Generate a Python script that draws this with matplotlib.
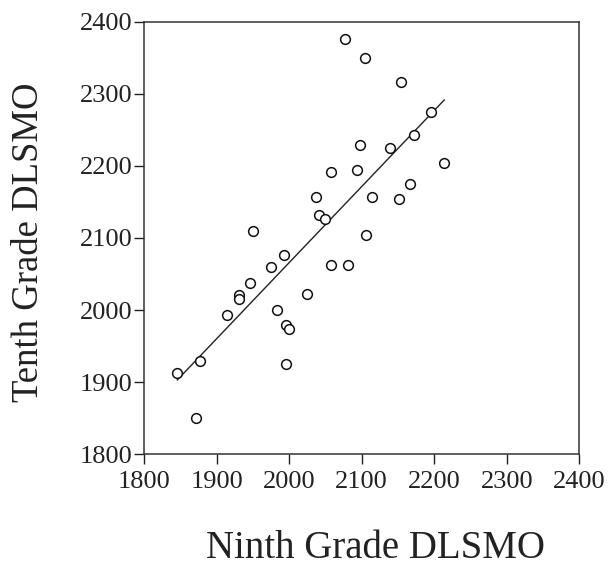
import matplotlib
matplotlib.use("Agg")
import matplotlib.pyplot as plt

ninth = [1845.9, 1871.2, 1877.2, 1914.4, 1930.9, 1930.9, 1945.6, 1950.2, 1975.0,
         1982.8, 1993.4, 1995.2, 2000.3, 1995.2, 2024.6, 2037.0, 2041.2, 2049.9,
         2057.7, 2057.7, 2081.1, 2077.0, 2104.1, 2097.2, 2093.5, 2105.9, 2114.2,
         2139.5, 2151.9, 2154.2, 2167.0, 2172.5, 2195.5, 2213.9]
tenth = [1912.3, 1849.9, 1929.0, 1993.2, 2020.5, 2015.9, 2037.2, 2110.2, 2060.3,
         2000.2, 2076.5, 1979.4, 1974.3, 1924.8, 2022.8, 2156.4, 2131.5, 2126.9,
         2191.6, 2062.1, 2062.1, 2375.6, 2350.2, 2229.0, 2193.9, 2103.7, 2156.4,
         2224.9, 2154.1, 2316.9, 2174.9, 2243.4, 2275.3, 2204.1]
fit_x = [1845.9, 2213.9]
fit_y = [1903.1, 2291.4]
ticks = [1800, 1900, 2000, 2100, 2200, 2300, 2400]

plt.rcParams['font.family'] = ['Liberation Serif', 'DejaVu Serif']

fig = plt.figure(figsize=(6.11, 5.68), dpi=100)
ax = fig.add_axes([0.2357, 0.2002, 0.948 - 0.2357, 0.9618 - 0.2002])

ax.plot(fit_x, fit_y, color='#222222', lw=1.0, zorder=2)
ax.plot(ninth, tenth, linestyle='none', marker='o', markersize=7,
        markerfacecolor='white', markeredgecolor='#111111', markeredgewidth=1.1, zorder=3)

ax.set_xlim(1800, 2400)
ax.set_ylim(1800, 2400)
ax.set_xticks(ticks)
ax.set_yticks(ticks)
ax.tick_params(axis='both', direction='out', length=7, width=1.0, labelsize=19, colors='#222222')
ax.tick_params(axis='x', pad=5)
ax.tick_params(axis='y', pad=1)
for s in ax.spines.values():
    s.set_linewidth(1.1)
    s.set_color('#333333')

ax.set_xlabel('Ninth Grade DLSMO', fontsize=28, color='#222222')
ax.xaxis.set_label_coords(0.531, -0.176)
ax.set_ylabel('Tenth Grade DLSMO', fontsize=26.5, color='#222222')
ax.yaxis.set_label_coords(-0.226, 0.49)

fig.savefig('out.png', dpi=100)
